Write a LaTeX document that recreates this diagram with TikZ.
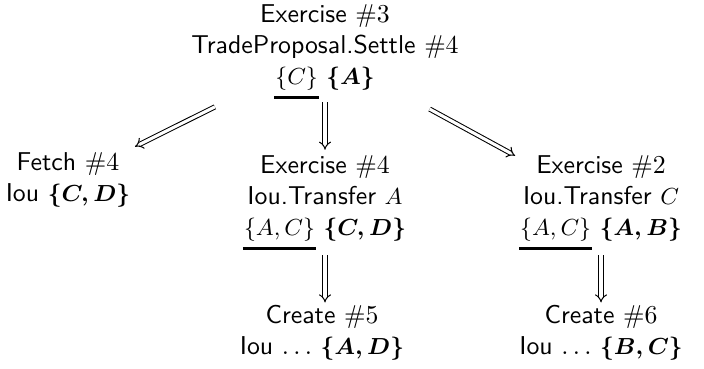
\documentclass[tikz,border=0pt]{standalone}
\usepackage{amsmath}
\usetikzlibrary{arrows.meta}
\newcommand{\sm}[1]{{\fontsize{8.8}{12}\selectfont$#1$}}
\newcommand{\myul}[1]{\setbox0\hbox{#1}\rlap{\kern-0.4pt\rule[-5.6pt]{\dimexpr\wd0+0.8pt\relax}{1.2pt}}\box0\relax}
\begin{document}
\begin{tikzpicture}[x=0.3876pt,y=-0.3876pt,
  every node/.style={font=\sffamily, align=center, inner sep=1pt},
  imp/.style={double, double distance=1.2pt, line width=0.4pt, -{Implies}}]
\useasboundingbox (0,0) rectangle (704,368);
\node (top) at (325,52) {Exercise $\#3$\\TradeProposal.Settle $\#4$\\\myul{\sm{\{C\}}} \sm{\boldsymbol{\{A\}}}};
\node (fetch) at (68,180) {Fetch $\#4$\\Iou \sm{\boldsymbol{\{C,D\}}}};
\node (ex4) at (325,202.5) {Exercise $\#4$\\Iou.Transfer \sm{A}\\\myul{\sm{\{A,C\}}} \sm{\boldsymbol{\{C,D\}}}};
\node (ex2) at (601,202.5) {Exercise $\#2$\\Iou.Transfer \sm{C}\\\myul{\sm{\{A,C\}}} \sm{\boldsymbol{\{A,B\}}}};
\node (cr5) at (322,333) {Create $\#5$\\Iou $\ldots$ \sm{\boldsymbol{\{A,D\}}}};
\node (cr6) at (601,333) {Create $\#6$\\Iou $\ldots$ \sm{\boldsymbol{\{B,C\}}}};
\draw[imp, shorten <=47.7pt, shorten >=29pt] (top.center) -- (fetch.center);
\draw[imp, shorten >=1pt] (top.south) -- (ex4.north);
\draw[imp, shorten <=46.2pt, shorten >=37.9pt] (top.center) -- (ex2.center);
\draw[imp, shorten <=1pt] (ex4.south) -- (ex4.south |- cr5.north);
\draw[imp, shorten <=1pt] (ex2.south) -- (cr6.north);
\end{tikzpicture}
\end{document}
